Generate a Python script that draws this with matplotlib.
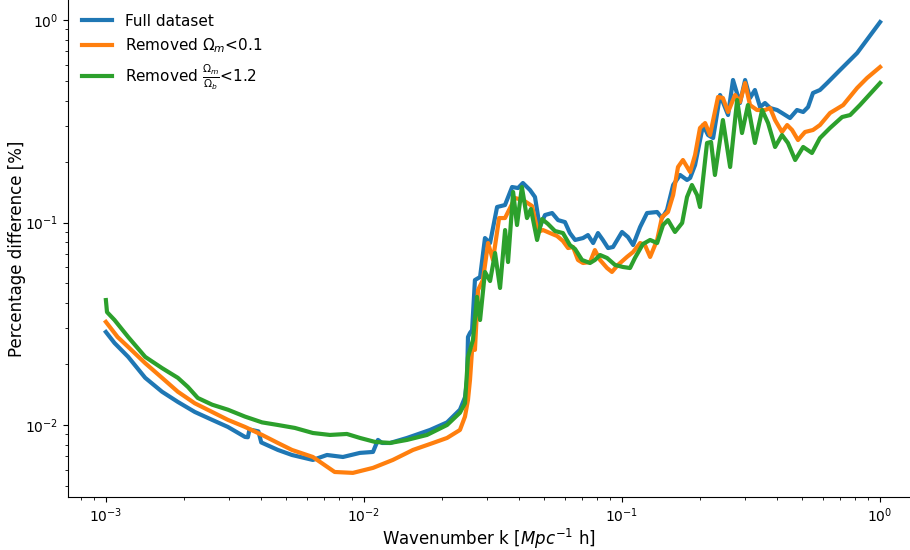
import numpy as np
import matplotlib
matplotlib.use("Agg")
import matplotlib.pyplot as plt

# Values (k in h/Mpc, difference in %)
k_full = [0.00100, 0.00108, 0.00122, 0.00142, 0.00165, 0.00190, 0.00221, 0.00258,
          0.00297, 0.00346, 0.00355, 0.00360, 0.00390, 0.00400, 0.00464, 0.00526,
          0.00634, 0.00719, 0.00829, 0.00964, 0.01084, 0.01133, 0.01175, 0.01262,
          0.01469, 0.01803, 0.02099, 0.02355, 0.02463, 0.02509, 0.02530, 0.02576,
          0.02624, 0.02692, 0.02818, 0.02944, 0.03081, 0.03280, 0.03520, 0.03750,
          0.03953, 0.04130, 0.04400, 0.04600, 0.04800, 0.05030, 0.05360, 0.05650,
          0.06010, 0.06280, 0.06580, 0.07060, 0.07380, 0.07730, 0.08070, 0.08430,
          0.08830, 0.09230, 0.10000, 0.10540, 0.11040, 0.11750, 0.12500, 0.13680,
          0.14290, 0.14940, 0.15780, 0.16790, 0.17860, 0.18360, 0.19190, 0.20610,
          0.21550, 0.22540, 0.23990, 0.25760, 0.26920, 0.28640, 0.29990, 0.31330,
          0.32730, 0.34280, 0.35810, 0.37500, 0.39900, 0.41690, 0.44770, 0.47640,
          0.50350, 0.52600, 0.54950, 0.58480, 0.62370, 0.69980, 0.81470, 1.00000]
diff_full = [0.0288, 0.0254, 0.0217, 0.0171, 0.0146, 0.0130, 0.0116, 0.0106,
             0.00978, 0.00873, 0.00870, 0.00950, 0.00930, 0.00820, 0.00753, 0.00711,
             0.00672, 0.00711, 0.00695, 0.00728, 0.00736, 0.00844, 0.00815, 0.00815,
             0.00863, 0.00945, 0.0103, 0.0119, 0.0137, 0.0167, 0.0272, 0.0285,
             0.0294, 0.0520, 0.0538, 0.0838, 0.0792, 0.1193, 0.1220, 0.1497,
             0.1480, 0.1567, 0.1447, 0.1336, 0.0950, 0.1089, 0.1114, 0.1028,
             0.1005, 0.0887, 0.0820, 0.0838, 0.0867, 0.0792, 0.0887, 0.0820,
             0.0748, 0.0757, 0.0898, 0.0848, 0.0774, 0.0950, 0.1114, 0.1127,
             0.1052, 0.1153, 0.1532, 0.1717, 0.1622, 0.1659, 0.1923, 0.3030,
             0.2704, 0.2613, 0.4264, 0.3395, 0.5057, 0.3891, 0.5057, 0.4120,
             0.4513, 0.3718, 0.3891, 0.3676, 0.3595, 0.3474, 0.3281, 0.3595,
             0.3514, 0.3718, 0.4362, 0.4513, 0.4887, 0.5666, 0.6871, 0.977]

k_om = [0.00100, 0.00111, 0.00122, 0.00142, 0.00165, 0.00190, 0.00221, 0.00258,
        0.00297, 0.00346, 0.00403, 0.00464, 0.00526, 0.00634, 0.00770, 0.00906,
        0.01084, 0.01294, 0.01549, 0.01851, 0.02099, 0.02355, 0.02463, 0.02530,
        0.02576, 0.02624, 0.02692, 0.02767, 0.02891, 0.03026, 0.03162, 0.03340,
        0.03520, 0.03850, 0.04130, 0.04480, 0.04720, 0.04940, 0.05260, 0.05600,
        0.05900, 0.06180, 0.06460, 0.06750, 0.07060, 0.07520, 0.07850, 0.08220,
        0.08750, 0.09140, 0.09640, 0.10450, 0.11040, 0.11750, 0.12270, 0.12850,
        0.13680, 0.14290, 0.15070, 0.15780, 0.16480, 0.17220, 0.18360, 0.19190,
        0.20050, 0.20990, 0.21930, 0.23550, 0.24600, 0.25760, 0.27420, 0.28640,
        0.29990, 0.31330, 0.33340, 0.35810, 0.37500, 0.39180, 0.41690, 0.43650,
        0.45600, 0.48080, 0.51170, 0.54950, 0.58480, 0.63970, 0.71940, 0.81470,
        0.89030, 1.00000]
diff_om = [0.0323, 0.0272, 0.0243, 0.0202, 0.0171, 0.0146, 0.0128, 0.0116,
           0.0106, 0.00978, 0.00893, 0.00815, 0.00753, 0.00695, 0.00586, 0.00580,
           0.00614, 0.00672, 0.00753, 0.00815, 0.00863, 0.00945, 0.0110, 0.0133,
           0.0167, 0.0235, 0.0235, 0.0464, 0.0520, 0.0792, 0.0653, 0.1052,
           0.1052, 0.1321, 0.1292, 0.1207, 0.0898, 0.0918, 0.0887, 0.0858,
           0.0811, 0.0748, 0.0757, 0.0653, 0.0631, 0.0638, 0.0731, 0.0653,
           0.0596, 0.0570, 0.0617, 0.0676, 0.0715, 0.0792, 0.0774, 0.0676,
           0.0820, 0.1064, 0.1127, 0.1367, 0.1880, 0.2036, 0.1776, 0.2155,
           0.2930, 0.3100, 0.2704, 0.4168, 0.4120, 0.3514, 0.4264, 0.3935,
           0.4887, 0.3803, 0.3595, 0.3595, 0.3676, 0.3207, 0.2799, 0.3030,
           0.2864, 0.2554, 0.2799, 0.2864, 0.3030, 0.3474, 0.3803, 0.4617,
           0.5174, 0.5861]

k_ratio = [0.00100, 0.00101, 0.00108, 0.00122, 0.00142, 0.00165, 0.00190, 0.00208,
           0.00227, 0.00258, 0.00297, 0.00346, 0.00403, 0.00464, 0.00540, 0.00634,
           0.00738, 0.00859, 0.00965, 0.01103, 0.01262, 0.01469, 0.01755, 0.02099,
           0.02355, 0.02463, 0.02530, 0.02645, 0.02742, 0.02818, 0.02944, 0.03081,
           0.03221, 0.03368, 0.03523, 0.03617, 0.03785, 0.03918, 0.04093, 0.04283,
           0.04436, 0.04687, 0.04898, 0.05164, 0.05496, 0.05902, 0.06281, 0.06577,
           0.06998, 0.07516, 0.07852, 0.08222, 0.08750, 0.09397, 0.10090, 0.10740,
           0.11220, 0.12050, 0.12850, 0.13680, 0.14420, 0.15070, 0.16040, 0.17100,
           0.17860, 0.18660, 0.19540, 0.20050, 0.21350, 0.22130, 0.22910, 0.24600,
           0.26240, 0.27930, 0.29170, 0.30760, 0.32730, 0.34910, 0.36810, 0.39180,
           0.41690, 0.43950, 0.46880, 0.50350, 0.54450, 0.58480, 0.63970, 0.71290,
           0.76560, 0.83560, 1.00000]
diff_ratio = [0.0414, 0.0361, 0.0330, 0.0272, 0.0217, 0.0191, 0.0171, 0.0154,
              0.0136, 0.0126, 0.0119, 0.0110, 0.0103, 0.0100, 0.00967, 0.00913,
              0.00893, 0.00903, 0.00863, 0.00825, 0.00815, 0.00844, 0.00893, 0.0100,
              0.0115, 0.0128, 0.0217, 0.0263, 0.0429, 0.0330, 0.0570, 0.0514,
              0.0707, 0.0475, 0.0918, 0.0638, 0.1415, 0.0972, 0.1497, 0.1052,
              0.1166, 0.0820, 0.1040, 0.0984, 0.0908, 0.0887, 0.0774, 0.0740,
              0.0653, 0.0631, 0.0653, 0.0691, 0.0668, 0.0617, 0.0603, 0.0596,
              0.0668, 0.0783, 0.0820, 0.0792, 0.0972, 0.1028, 0.0898, 0.0995,
              0.1336, 0.1532, 0.1367, 0.1193, 0.2471, 0.2500, 0.1717, 0.3207,
              0.1880, 0.4027, 0.2767, 0.3803, 0.2471, 0.3595, 0.3100, 0.2361,
              0.2704, 0.2471, 0.2036, 0.2361, 0.2205, 0.2613, 0.2930, 0.3319,
              0.3395, 0.3803, 0.4887]

fig = plt.figure(figsize=(9.1, 5.5), dpi=100)
ax = fig.add_axes([0.0747, 0.0964, 0.9253, 0.9036])

ax.plot(k_full, diff_full, color='#1f77b4', linewidth=3, label='Full dataset')
ax.plot(k_om, diff_om, color='#ff7f0e', linewidth=3, label=r'Removed $\Omega_m$<0.1')
ax.plot(k_ratio, diff_ratio, color='#2ca02c', linewidth=3,
        label=r'Removed $\frac{\Omega_m}{\Omega_b}$<1.2')

ax.set_xscale('log')
ax.set_yscale('log')
ax.set_xlim(7.13e-4, 1.306)
ax.set_ylim(4.41e-3, 1.256)

ax.spines['top'].set_visible(False)
ax.spines['right'].set_visible(False)

ax.set_xlabel(r'Wavenumber k [$Mpc^{-1}$ h]', fontsize=12, labelpad=1)
ax.set_ylabel('Percentage difference [%]', fontsize=12, labelpad=-1)
ax.tick_params(labelsize=10)

ax.legend(loc='upper left', frameon=False, fontsize=11, borderaxespad=0.5)

fig.savefig('out.png', dpi=100)
